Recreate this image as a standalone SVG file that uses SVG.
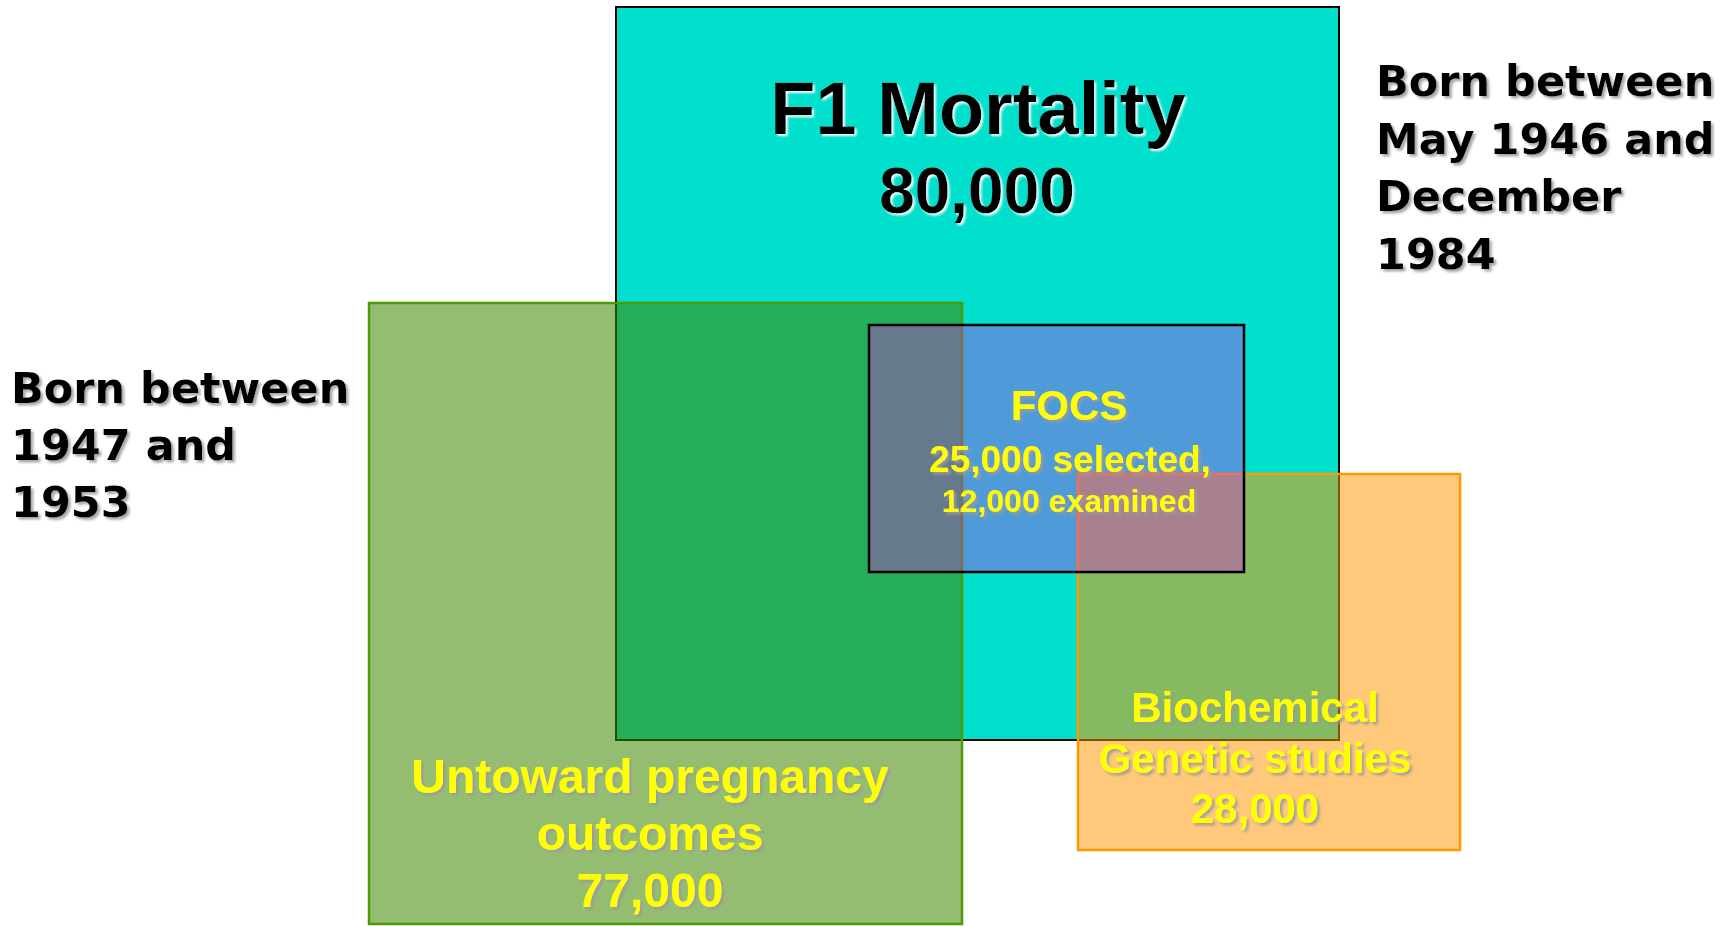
<svg xmlns="http://www.w3.org/2000/svg" width="1730" height="926" viewBox="0 0 1730 926">
  <defs>
    <filter id="shGray" x="-10%" y="-30%" width="120%" height="160%">
      <feDropShadow dx="2.5" dy="2.5" stdDeviation="1.3" flood-color="#9a9a9a" flood-opacity="0.85"/>
    </filter>
    <filter id="shWhite" x="-10%" y="-30%" width="120%" height="160%">
      <feDropShadow dx="2" dy="2" stdDeviation="0.8" flood-color="#ffffff" flood-opacity="0.95"/>
    </filter>
  </defs>
  <style>
    .arial { font-family: "Liberation Sans", Arial, sans-serif; font-weight: bold; text-anchor: middle; }
    .verd { font-family: "DejaVu Sans", Verdana, sans-serif; font-weight: bold; font-size: 43px; fill: #000; }
    .yel { fill: #ffff00; filter: url(#shGray); }
    .blk { fill: #000; filter: url(#shWhite); }
  </style>
  <rect width="1730" height="926" fill="#ffffff"/>

  <g id="f1-mortality">
    <rect x="616" y="7" width="723" height="733" fill="#00e0cc" stroke="#000" stroke-width="2"/>
  </g>
  <g id="untoward-pregnancy">
    <rect x="369" y="303" width="593" height="621" fill="rgb(66,137,4)" fill-opacity="0.56" stroke="#4e9a06" stroke-width="2.5"/>
  </g>
  <g id="biochemical-genetic">
    <rect x="1078" y="474" width="382" height="376" fill="rgb(255,150,0)" fill-opacity="0.52" stroke="#ff9900" stroke-width="2.5"/>
  </g>
  <g id="focs">
    <rect x="869" y="325" width="375" height="247" fill="rgb(239,15,242)" fill-opacity="0.33" stroke="#000" stroke-width="2.5"/>
  </g>

  <g id="f1-mortality-label">
    <text class="arial blk" x="978" y="134" font-size="74">F1 Mortality</text>
    <text class="arial blk" x="977" y="213" font-size="64">80,000</text>
  </g>
  <g id="focs-label">
    <text class="arial yel" x="1069" y="420" font-size="42">FOCS</text>
    <text class="arial yel" x="1070" y="472" font-size="37">25,000 selected,</text>
    <text class="arial yel" x="1069" y="512" font-size="32">12,000 examined</text>
  </g>
  <g id="untoward-label">
    <text class="arial yel" x="650" y="793" font-size="48">Untoward pregnancy</text>
    <text class="arial yel" x="650" y="850" font-size="48">outcomes</text>
    <text class="arial yel" x="650" y="907" font-size="48">77,000</text>
  </g>
  <g id="biochemical-label">
    <text class="arial yel" x="1255" y="722" font-size="42">Biochemical</text>
    <text class="arial yel" x="1255" y="773" font-size="42">Genetic studies</text>
    <text class="arial yel" x="1255" y="823" font-size="42">28,000</text>
  </g>
  <g id="born-right" filter="url(#shGray)">
    <text class="verd" x="1376" y="96">Born between</text>
    <text class="verd" x="1376" y="154">May 1946 and</text>
    <text class="verd" x="1376" y="211">December</text>
    <text class="verd" x="1376" y="269">1984</text>
  </g>
  <g id="born-left" filter="url(#shGray)">
    <text class="verd" x="11" y="403">Born between</text>
    <text class="verd" x="11" y="460">1947 and</text>
    <text class="verd" x="11" y="517">1953</text>
  </g>
</svg>
